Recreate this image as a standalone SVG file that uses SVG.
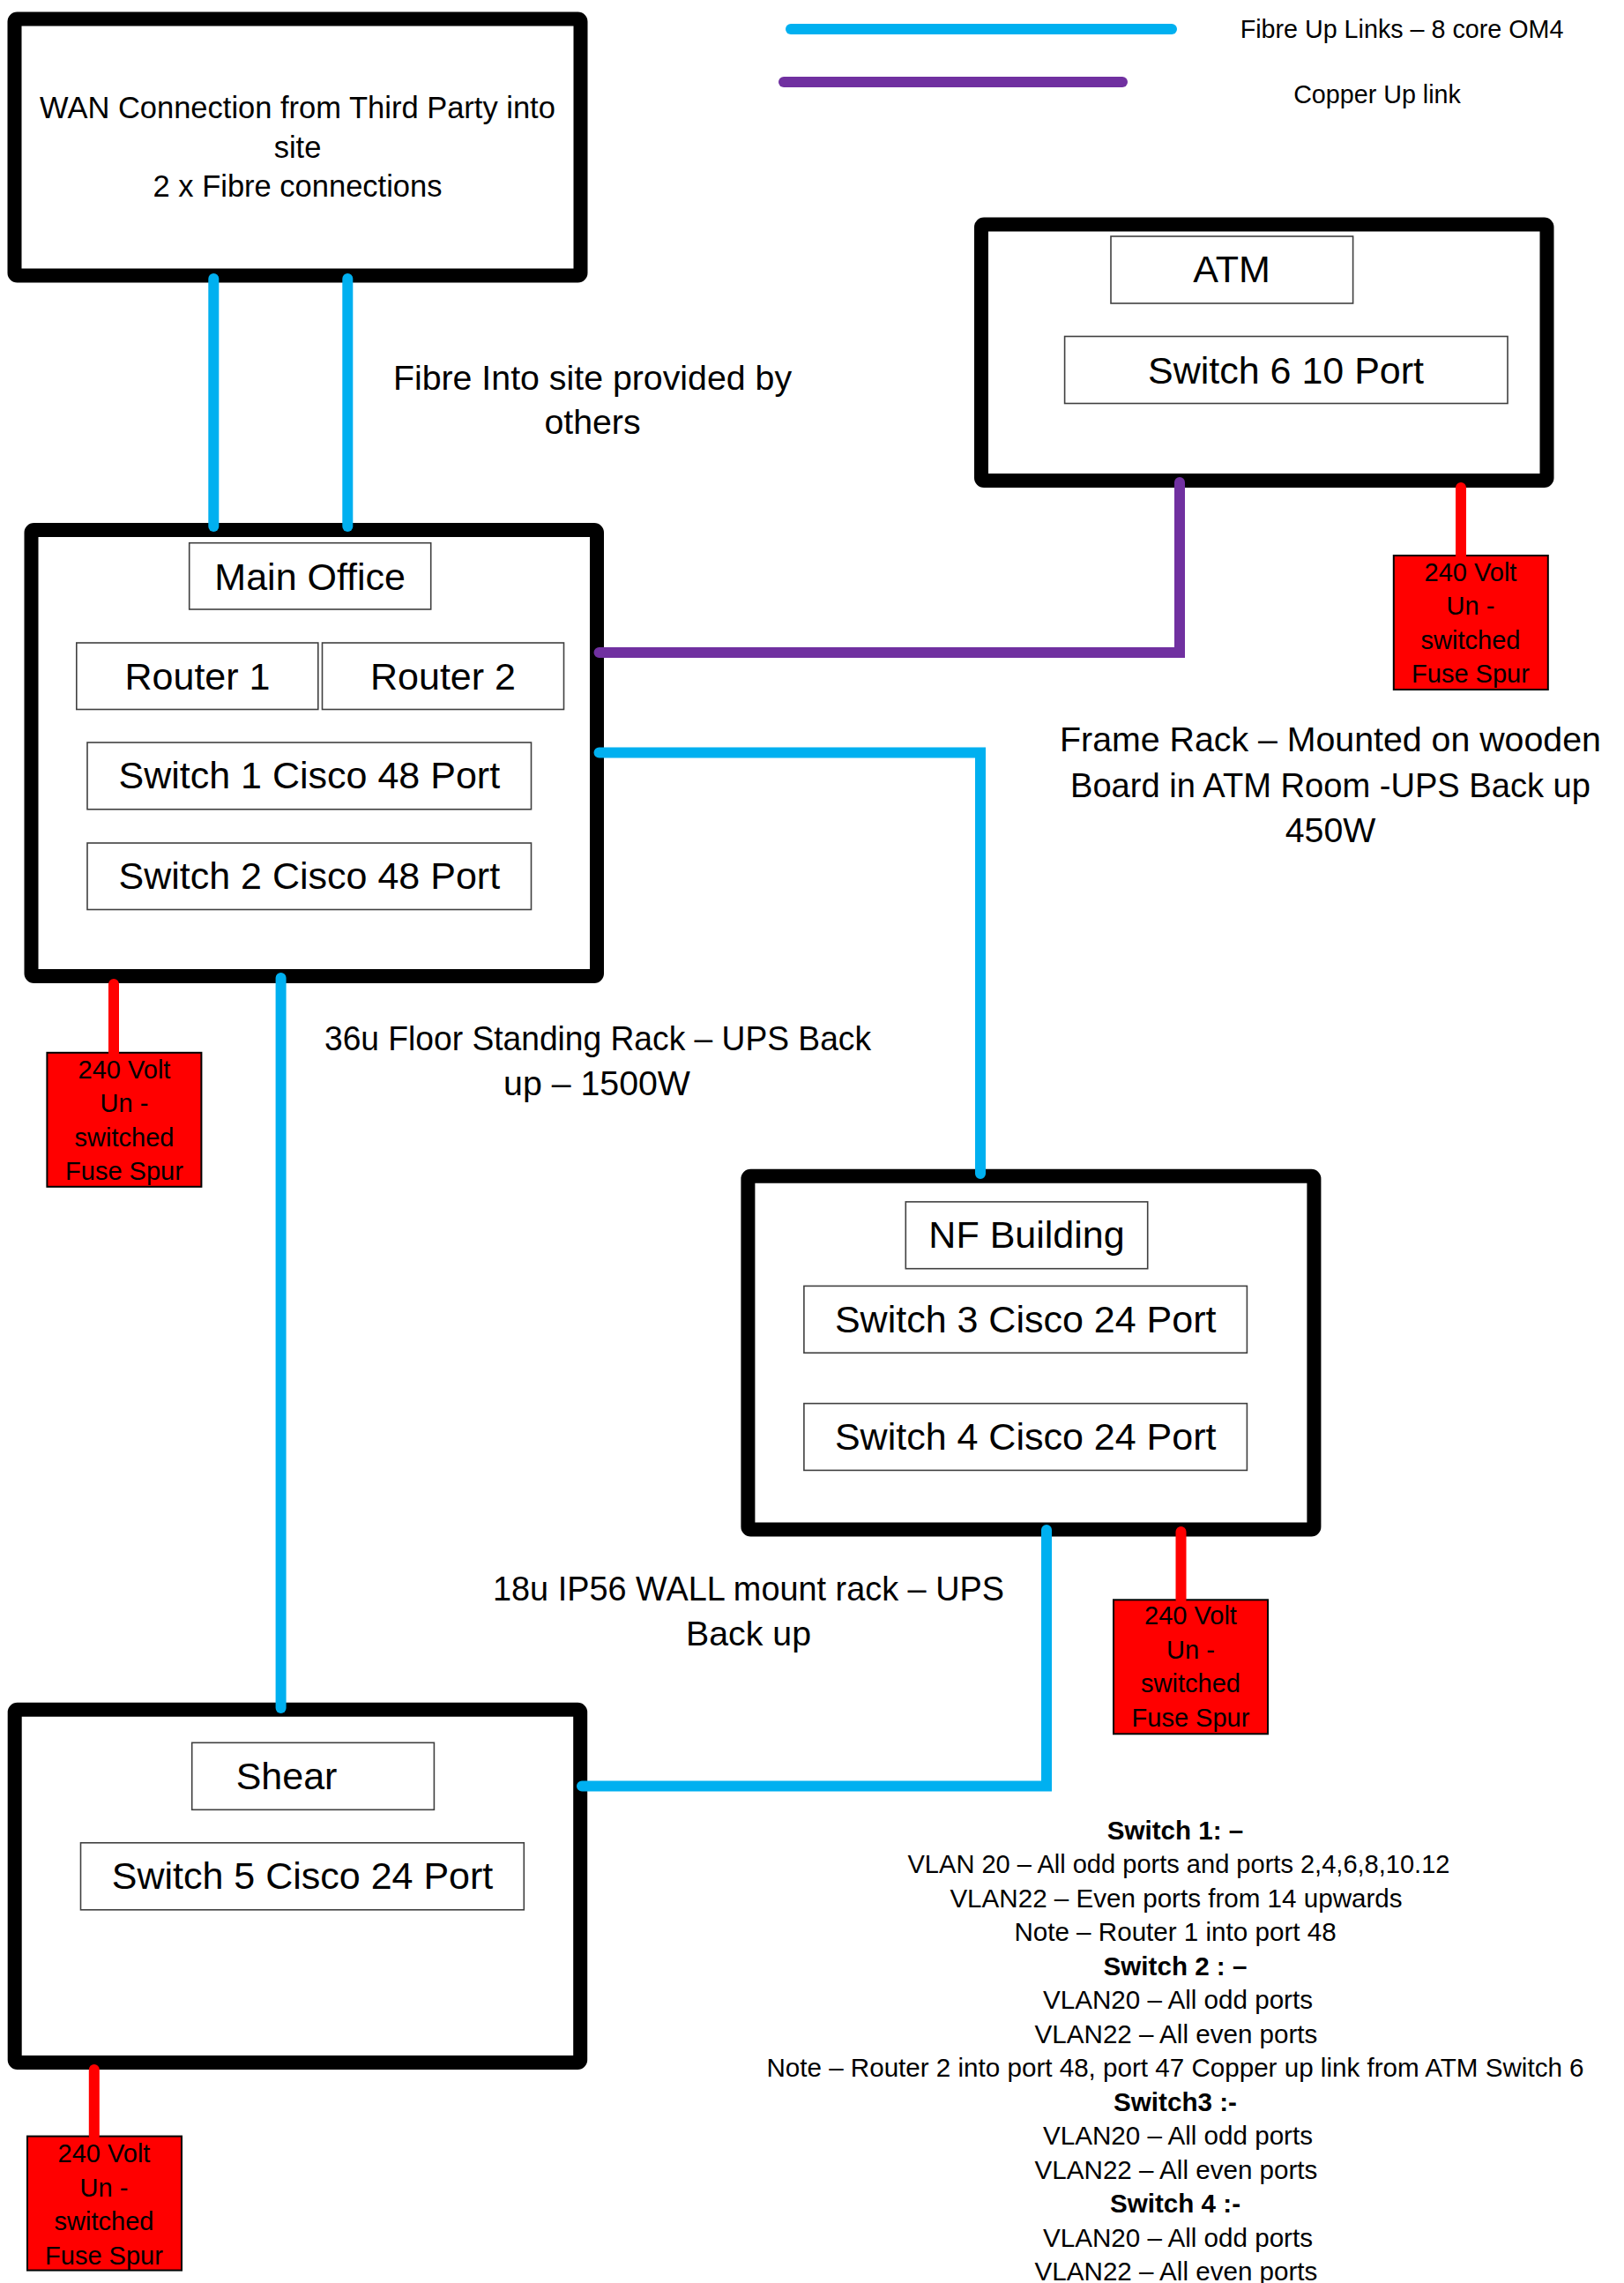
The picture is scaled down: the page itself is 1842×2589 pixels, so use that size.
<svg xmlns="http://www.w3.org/2000/svg" width="1842" height="2589" viewBox="0 0 1842 2589">
<style>
text{font-family:"Liberation Sans",Arial,sans-serif;fill:#000;text-anchor:middle}
.rack{fill:#fff;stroke:#000;stroke-width:16;rx:3}
.lbl{fill:#fff;stroke:#404040;stroke-width:1.6}
.big{font-size:43px}
.mid{font-size:39.3px}
.wan{font-size:34.5px}
.leg{font-size:28.7px}
.pwr{font-size:29px}
.vl{font-size:29.6px}
.b{font-weight:bold}
.spur{fill:#FF0000;stroke:#000;stroke-width:2}
.fib{fill:none;stroke:#00B0F0;stroke-width:12;stroke-linecap:round;stroke-linejoin:miter}
.cop{fill:none;stroke:#7030A0;stroke-width:12;stroke-linecap:round;stroke-linejoin:miter}
.pw{fill:none;stroke:#FF0000;stroke-width:12;stroke-linecap:round}
</style>
<rect width="1842" height="2589" fill="#fff"/>

<g id="legend">
<line class="fib" x1="897" y1="33" x2="1329" y2="33"/>
<line class="cop" x1="889" y1="93" x2="1273" y2="93"/>
<text class="leg" x="1590" y="43">Fibre Up Links – 8 core OM4</text>
<text class="leg" x="1562" y="117">Copper Up link</text>
</g>

<g id="wan">
<rect class="rack" x="16.5" y="21.5" width="642" height="291"/>
<text class="wan" x="337.5" y="134">WAN Connection from Third Party into</text>
<text class="wan" x="337.5" y="179">site</text>
<text class="wan" x="337.5" y="223">2 x Fibre connections</text>
</g>

<g id="atm">
<rect class="rack" x="1113" y="254.5" width="641.5" height="290.5"/>
<rect class="lbl" x="1260" y="268" width="274.6" height="76"/>
<text class="big" x="1397" y="320">ATM</text>
<rect class="lbl" x="1207.6" y="381.5" width="502.4" height="76"/>
<text class="big" x="1458.5" y="435">Switch 6 10 Port</text>
</g>

<g id="main-office">
<rect class="rack" x="35.5" y="601" width="641.5" height="506"/>
<rect class="lbl" x="214.7" y="615.7" width="274" height="75.3"/>
<text class="big" x="351.7" y="669.3">Main Office</text>
<rect class="lbl" x="86.8" y="729" width="274" height="75.5"/>
<text class="big" x="224" y="781.5">Router 1</text>
<rect class="lbl" x="365.5" y="729" width="274" height="75.5"/>
<text class="big" x="502.5" y="781.5">Router 2</text>
<rect class="lbl" x="99" y="842" width="503.5" height="75.8"/>
<text class="big" x="350.8" y="894">Switch 1 Cisco 48 Port</text>
<rect class="lbl" x="99" y="956" width="503.5" height="75.5"/>
<text class="big" x="350.8" y="1007.5">Switch 2 Cisco 48 Port</text>
</g>

<g id="nf-building">
<rect class="rack" x="848.4" y="1333.7" width="642" height="400.8"/>
<rect class="lbl" x="1027.3" y="1362.9" width="274.4" height="75.8"/>
<text class="big" x="1164.5" y="1414.8">NF Building</text>
<rect class="lbl" x="911.9" y="1458.4" width="502.5" height="75.8"/>
<text class="big" x="1163.2" y="1511.2">Switch 3 Cisco 24 Port</text>
<rect class="lbl" x="911.9" y="1591.6" width="502.5" height="75.8"/>
<text class="big" x="1163.2" y="1644.4">Switch 4 Cisco 24 Port</text>
</g>

<g id="shear">
<rect class="rack" x="16.7" y="1938.7" width="641.5" height="400.3"/>
<rect class="lbl" x="217.7" y="1976.3" width="274.7" height="76"/>
<text class="big" x="325" y="2029.2">Shear</text>
<rect class="lbl" x="91.5" y="2089.8" width="502.8" height="76"/>
<text class="big" x="343" y="2142.3">Switch 5 Cisco 24 Port</text>
</g>

<g id="spur-atm">
<rect class="spur" x="1580.8" y="630" width="175" height="152"/>
<text class="pwr" x="1668" y="658.6">240 Volt</text>
<text class="pwr" x="1668" y="697">Un -</text>
<text class="pwr" x="1668" y="735.6">switched</text>
<text class="pwr" x="1668" y="774">Fuse Spur</text>
</g>

<g id="spur-main">
<rect class="spur" x="53.4" y="1193.8" width="175" height="152"/>
<text class="pwr" x="141" y="1222.9">240 Volt</text>
<text class="pwr" x="141" y="1261.4">Un -</text>
<text class="pwr" x="141" y="1299.9">switched</text>
<text class="pwr" x="141" y="1338.4">Fuse Spur</text>
</g>

<g id="spur-nf">
<rect class="spur" x="1263" y="1814.3" width="175" height="152"/>
<text class="pwr" x="1350.5" y="1842">240 Volt</text>
<text class="pwr" x="1350.5" y="1880.5">Un -</text>
<text class="pwr" x="1350.5" y="1919">switched</text>
<text class="pwr" x="1350.5" y="1957.5">Fuse Spur</text>
</g>

<g id="spur-shear">
<rect class="spur" x="31" y="2422.6" width="175" height="152"/>
<text class="pwr" x="118" y="2452">240 Volt</text>
<text class="pwr" x="118" y="2490.5">Un -</text>
<text class="pwr" x="118" y="2529">switched</text>
<text class="pwr" x="118" y="2567.5">Fuse Spur</text>
</g>

<g id="notes">
<text class="mid" x="672" y="442">Fibre Into site provided by</text>
<text class="mid" x="672" y="492">others</text>
<text class="mid" x="678" y="1191" textLength="620" lengthAdjust="spacingAndGlyphs">36u Floor Standing Rack – UPS Back</text>
<text class="mid" x="677" y="1242">up – 1500W</text>
<text class="mid" x="1509" y="852">Frame Rack – Mounted on wooden</text>
<text class="mid" x="1509" y="904" textLength="590" lengthAdjust="spacingAndGlyphs">Board in ATM Room -UPS Back up</text>
<text class="mid" x="1509" y="955">450W</text>
<text class="mid" x="849" y="1814.7" textLength="580" lengthAdjust="spacingAndGlyphs">18u IP56 WALL mount rack – UPS</text>
<text class="mid" x="849" y="1865.7">Back up</text>
</g>

<g id="vlan-notes">
<text class="vl b" x="1333" y="2085.5">Switch 1: –</text>
<text class="vl" x="1337" y="2124" textLength="615" lengthAdjust="spacingAndGlyphs">VLAN 20 – All odd ports and ports 2,4,6,8,10.12</text>
<text class="vl" x="1334" y="2162.5">VLAN22 – Even ports from 14 upwards</text>
<text class="vl" x="1333" y="2201">Note – Router 1 into port 48</text>
<text class="vl b" x="1333" y="2239.5">Switch 2 : –</text>
<text class="vl" x="1336" y="2278">VLAN20 – All odd ports</text>
<text class="vl" x="1334" y="2316.5">VLAN22 – All even ports</text>
<text class="vl" x="1333" y="2355">Note – Router 2 into port 48, port 47 Copper up link from ATM Switch 6</text>
<text class="vl b" x="1333" y="2393.5">Switch3 :-</text>
<text class="vl" x="1336" y="2432">VLAN20 – All odd ports</text>
<text class="vl" x="1334" y="2470.5">VLAN22 – All even ports</text>
<text class="vl b" x="1333" y="2509">Switch 4 :-</text>
<text class="vl" x="1336" y="2547.5">VLAN20 – All odd ports</text>
<text class="vl" x="1334" y="2586">VLAN22 – All even ports</text>
</g>

<g id="connectors">
<path class="fib" d="M242.3 316 V597"/>
<path class="fib" d="M394.3 316 V597"/>
<path class="cop" d="M679.5 740 H1338 V547"/>
<path class="fib" d="M679.5 853.5 H1112 V1331"/>
<path class="fib" d="M318.6 1109 V1937"/>
<path class="fib" d="M1187 1735 V2025.6 H660"/>
<path class="pw" d="M1657 553 V632"/>
<path class="pw" d="M129 1116 V1194"/>
<path class="pw" d="M1339.5 1737 V1814"/>
<path class="pw" d="M106.8 2347 V2422"/>
</g>
</svg>
